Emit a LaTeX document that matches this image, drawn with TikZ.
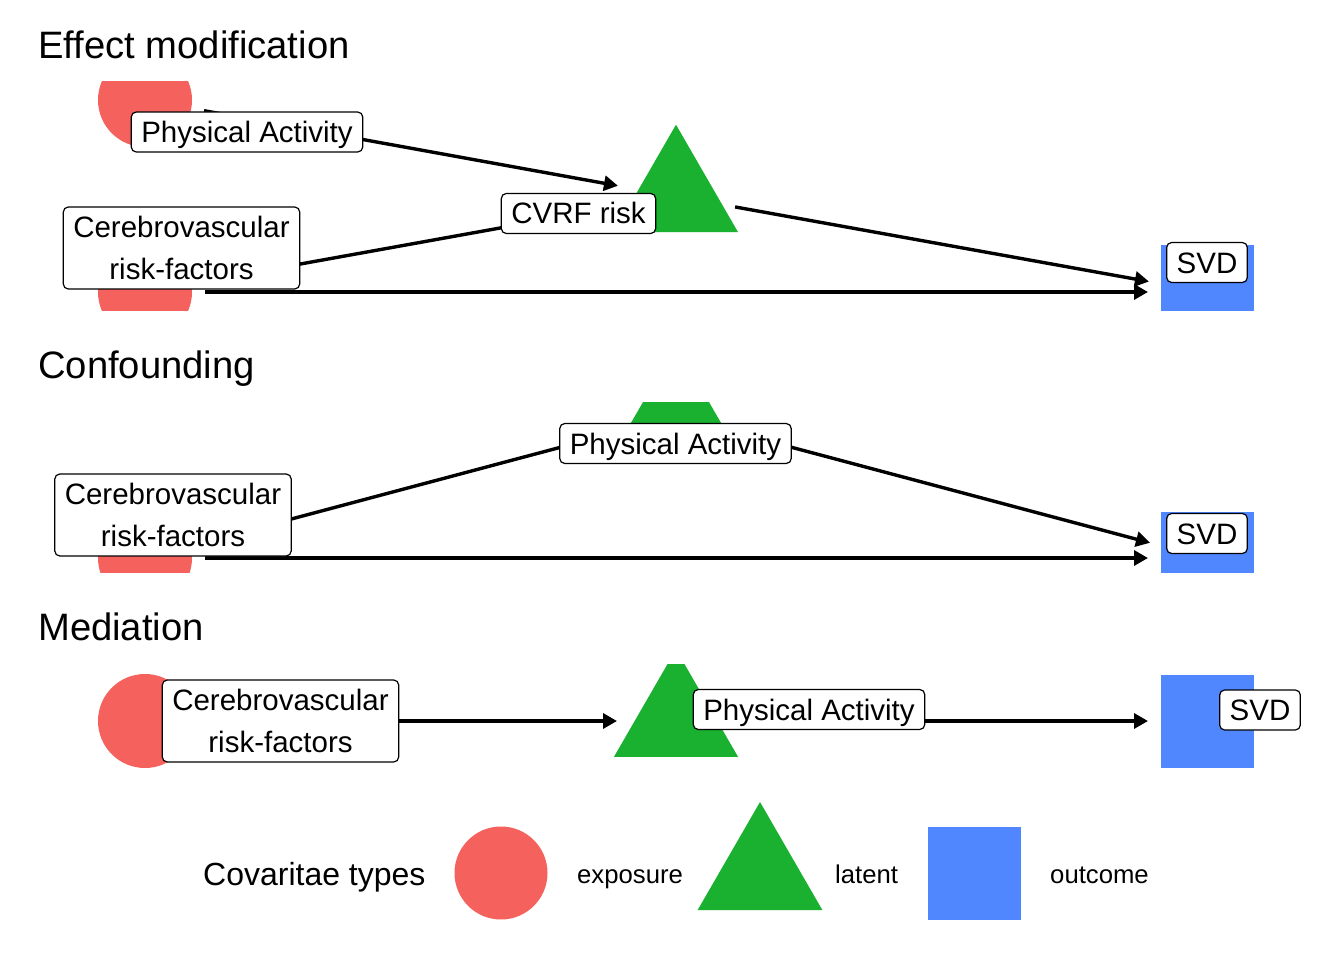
\documentclass[tikz,border=0pt]{standalone}
\usepackage{fontspec}
\setmainfont{Liberation Sans}
\usetikzlibrary{arrows.meta,shapes.geometric}
\definecolor{expcol}{RGB}{245,97,92}
\definecolor{latcol}{RGB}{26,176,48}
\definecolor{outcol}{RGB}{80,135,255}
\tikzset{
  expo/.style={circle,fill=expcol,minimum size=94pt,inner sep=0pt,outer sep=0pt},
  lat/.style={regular polygon,regular polygon sides=3,fill=latcol,minimum size=143.2pt,inner sep=0pt,outer sep=0pt},
  outsq/.style={rectangle,fill=outcol,minimum size=93pt,inner sep=0pt,outer sep=0pt},
  edge/.style={line width=3.4pt,-{Triangle[length=14pt,width=15pt]},shorten <=60pt,shorten >=59pt},
  lab/.style={draw=black,line width=1.2pt,rounded corners=5pt,fill=white,
    font=\fontsize{29.5}{41.5}\selectfont,inner xsep=10pt,inner ysep=0pt,align=center},
  labone/.style={lab,text height=21pt,text depth=0pt,minimum height=40pt},
  labtwo/.style={lab,minimum height=82pt},
  ttl/.style={anchor=base west,font=\fontsize{38.2}{44}\selectfont,inner sep=0pt},
  legttl/.style={anchor=base west,font=\fontsize{32}{38}\selectfont,inner sep=0pt},
  legtxt/.style={anchor=base west,font=\fontsize{25.7}{30}\selectfont,inner sep=0pt},
}
\begin{document}
\begin{tikzpicture}[x=1pt,y=-1pt]
\useasboundingbox (0,0) rectangle (1344,960);
\fill[white] (0,0) rectangle (1344,960);

% ---------- Effect modification ----------
\node[ttl] (t1) at (38,58.3) {Effect modification};
\begin{scope}
  \clip (0,82) rectangle (1344,310);
  \node[expo] (pa1) at (145,100) {};
  \node[expo] (cv1) at (145,292) {};
  \node[lat] (rk1) at (676,196.3) {};
  \node[outsq] (sv1) at (1207,292) {};
  \draw[edge] (pa1.center) -- (rk1.center);
  \draw[edge] (cv1.center) -- (rk1.center);
  \draw[edge] (rk1.center) -- (sv1.center);
  \draw[edge] (cv1.center) -- (sv1.center);
  \node[labone] (lpa1) at (247,132) {Physical Activity};
  \node[labtwo] (lcv1) at (181.5,248) {Cerebrovascular\\risk-factors};
  \node[labone] (lrk1) at (578.5,213.5) {CVRF risk};
  \node[labone] (lsv1) at (1207,262.5) {SVD};
\end{scope}

% ---------- Confounding ----------
\node[ttl] (t2) at (38,378) {Confounding};
\begin{scope}
  \clip (0,402) rectangle (1344,572);
  \node[expo] (cv2) at (145,558) {};
  \node[lat] (pa2) at (676,416.5) {};
  \node[outsq] (sv2) at (1207,558) {};
  \draw[edge] (pa2.center) -- (cv2.center);
  \draw[edge] (pa2.center) -- (sv2.center);
  \draw[edge] (cv2.center) -- (sv2.center);
  \node[labtwo] (lcv2) at (173,515) {Cerebrovascular\\risk-factors};
  \node[labone] (lpa2) at (675.5,443.5) {Physical Activity};
  \node[labone] (lsv2) at (1207,533.5) {SVD};
\end{scope}

% ---------- Mediation ----------
\node[ttl] (t3) at (38,640) {Mediation};
\begin{scope}
  \clip (0,664) rectangle (1344,790);
  \node[expo] (cv3) at (145,721) {};
  \node[lat] (pa3) at (676,721) {};
  \node[outsq] (sv3) at (1207,721) {};
  \draw[edge] (cv3.center) -- (pa3.center);
  \draw[edge] (pa3.center) -- (sv3.center);
  \node[labtwo] (lcv3) at (280.5,721) {Cerebrovascular\\risk-factors};
  \node[labone] (lpa3) at (809,709.5) {Physical Activity};
  \node[labone] (lsv3) at (1260,710) {SVD};
\end{scope}

% ---------- Legend ----------
\node[legttl] (lgt) at (203,885.7) {Covaritae types};
\node[expo,minimum size=93pt] (lge) at (501,873) {};
\node[legtxt] (lget) at (577,883.5) {exposure};
\node[lat,minimum size=144pt] (lgl) at (760,874) {};
\node[legtxt] (lglt) at (835,883.5) {latent};
\node[outsq] (lgo) at (974.5,873) {};
\node[legtxt] (lgot) at (1050,883.5) {outcome};
\end{tikzpicture}
\end{document}
